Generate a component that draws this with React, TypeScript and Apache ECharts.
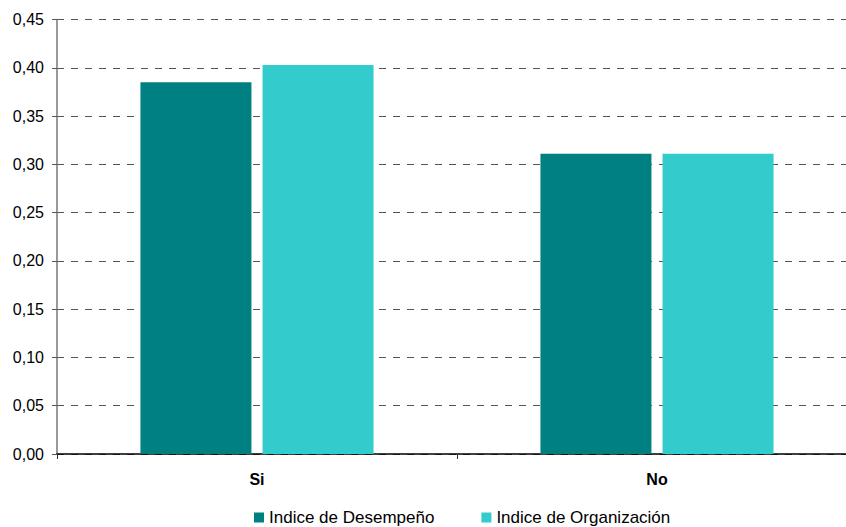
import React, { useEffect, useRef } from "react";
import * as echarts from "echarts";

const categories = ["Si", "No"];
const desempeno = [0.385, 0.311];
const organizacion = [0.403, 0.311];
const seriesNames = ["Indice de Desempeño", "Indice de Organización"];

export default function App() {
  const ref = useRef<HTMLDivElement>(null);
  useEffect(() => {
    const chart = echarts.init(ref.current!, null, { renderer: "svg" });
    const font = "Arial, 'Liberation Sans', sans-serif";
    chart.setOption({
      animation: false,
      backgroundColor: "#ffffff",
      textStyle: { fontFamily: font },
      grid: { left: 57, top: 19.5, width: 800, height: 434.5, outerBoundsMode: "none", containLabel: false },
      legend: {
        top: 509,
        left: 254,
        padding: 0,
        itemWidth: 10,
        itemHeight: 10,
        itemGap: 47,
        icon: "rect",
        textStyle: { fontSize: 17, color: "#000", fontFamily: font },
        data: seriesNames,
      },
      xAxis: {
        type: "category",
        data: categories,
        axisLine: { lineStyle: { color: "#000", width: 1.5 } },
        axisTick: { show: true, length: 5, lineStyle: { color: "#333" } },
        axisLabel: { fontSize: 16, fontWeight: "bold", color: "#000", margin: 17, fontFamily: font },
        splitLine: { show: false },
      },
      yAxis: {
        type: "value",
        min: 0,
        max: 0.45,
        interval: 0.05,
        axisLine: { show: true, lineStyle: { color: "#777", width: 1.5 } },
        axisTick: { show: true, length: 5, lineStyle: { color: "#555" } },
        axisLabel: {
          fontSize: 16,
          color: "#000",
          margin: 13,
          fontFamily: font,
          formatter: (v: number) => v.toFixed(2).replace(".", ","),
        },
        splitLine: { show: true, lineStyle: { color: "#555", type: [7, 7], width: 1 } },
      },
      series: [
        {
          name: seriesNames[0],
          type: "bar",
          data: desempeno,
          barWidth: 111,
          barGap: "10%",
          itemStyle: { color: "#008080" },
        },
        {
          name: seriesNames[1],
          type: "bar",
          data: organizacion,
          barWidth: 111,
          barGap: "10%",
          itemStyle: { color: "#33CCCC" },
        },
      ],
    });
    return () => chart.dispose();
  }, []);
  return (
    <div
      ref={ref}
      style={{ position: "fixed", left: 0, top: 0, width: 846, height: 527 }}
    />
  );
}
